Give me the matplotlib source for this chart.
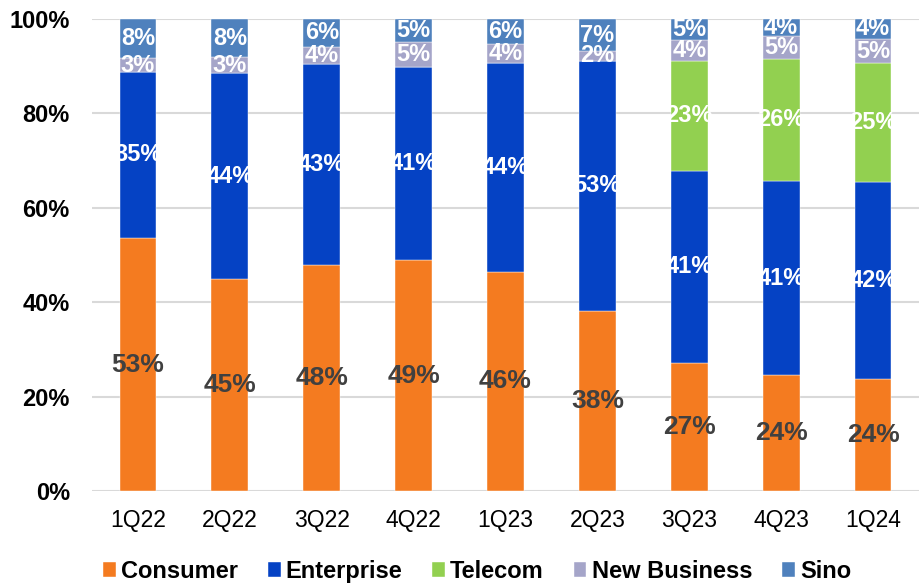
import matplotlib.pyplot as plt
import numpy as np

plt.rcParams['font.family'] = ['Liberation Sans', 'DejaVu Sans']

quarters = ['1Q22', '2Q22', '3Q22', '4Q22', '1Q23', '2Q23', '3Q23', '4Q23', '1Q24']

# shares in %
consumer = [53.6, 44.9, 47.9, 48.9, 46.4, 38.1, 27.1, 24.5, 23.7]
enterprise = [35.2, 43.6, 42.5, 41.0, 44.2, 53.1, 40.8, 41.2, 41.8]
telecom = [0, 0, 0, 0, 0, 0, 23.3, 25.9, 25.1]
new_business = [2.9, 3.4, 3.7, 5.2, 4.0, 2.0, 4.4, 4.8, 5.2]
sino = [8.3, 8.1, 5.9, 4.9, 5.4, 6.8, 4.4, 3.6, 4.2]

# labels as printed on the chart
consumer_lbl = [53, 45, 48, 49, 46, 38, 27, 24, 24]
enterprise_lbl = [35, 44, 43, 41, 44, 53, 41, 41, 42]
telecom_lbl = [None, None, None, None, None, None, 23, 26, 25]
new_business_lbl = [3, 3, 4, 5, 4, 2, 4, 5, 5]
sino_lbl = [8, 8, 6, 5, 6, 7, 5, 4, 4]

series = [
    ('Consumer', consumer, consumer_lbl, '#F47B20', '#404040', 19),
    ('Enterprise', enterprise, enterprise_lbl, '#0542C4', 'white', 17),
    ('Telecom', telecom, telecom_lbl, '#92D050', 'white', 17),
    ('New Business', new_business, new_business_lbl, '#A5A5C9', 'white', 17),
    ('Sino', sino, sino_lbl, '#4F81BD', 'white', 17),
]

fig = plt.figure(figsize=(9.19, 5.83), dpi=100)
ax = fig.add_axes([0.1001, 0.1578, 0.8999, 0.8096])

x = np.arange(len(quarters))
bottom = np.zeros(len(quarters))
for name, vals, lbls, col, tcol, fs in series:
    vals = np.array(vals)
    ax.bar(x, vals, 0.4, bottom=bottom, color=col, label=name, zorder=3,
           edgecolor='white', linewidth=0.3)
    for i in range(len(quarters)):
        if lbls[i] is None:
            continue
        ax.text(x[i], bottom[i] + vals[i] / 2, str(lbls[i]) + '%', ha='center',
                va='center', color=tcol, fontsize=fs, fontweight='bold', zorder=4)
    bottom = bottom + vals

ax.set_xlim(-0.5, len(quarters) - 0.5)
ax.set_ylim(0, 100)
ax.set_yticks(range(0, 101, 20))
ax.set_yticklabels([str(v) + '%' for v in range(0, 101, 20)], fontsize=17, fontweight='bold')
ax.set_xticks(x)
ax.set_xticklabels(quarters, fontsize=16.5)
ax.tick_params(axis='both', length=0)
ax.tick_params(axis='y', pad=16)
ax.tick_params(axis='x', pad=13)
ax.grid(axis='y', color='#d9d9d9', linewidth=1.5, zorder=0)
for s in ax.spines.values():
    s.set_visible(False)

fig.legend(loc='center', bbox_to_anchor=(0.519, 0.02), ncol=5, frameon=False,
           prop={'size': 17, 'weight': 'bold'}, handlelength=0.55, handleheight=0.55,
           handletextpad=0.22, columnspacing=1.25)

plt.savefig('out.png', dpi=100)
